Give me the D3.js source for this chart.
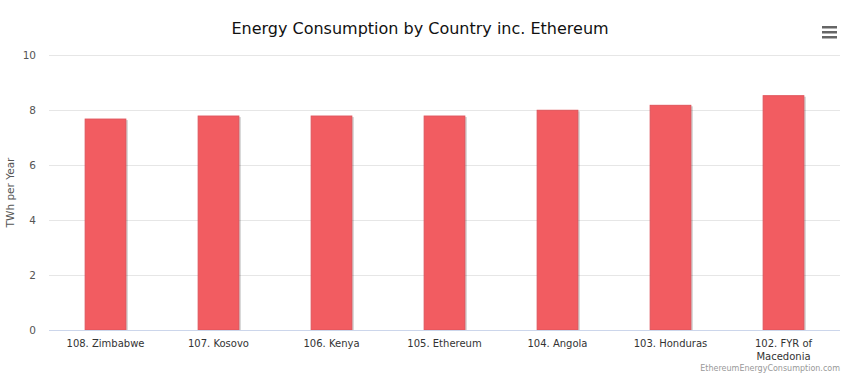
<!DOCTYPE html>
<html>
<head>
<meta charset="utf-8">
<script src="https://cdn.jsdelivr.net/npm/d3@7"></script>
<style>
  body { margin: 0; background: #fff; }
  svg { display: block; font-family: "DejaVu Sans", "Lucida Grande", sans-serif; }
</style>
</head>
<body>
<div class="canvas"></div>
<script>
const categories = [
  "108. Zimbabwe", "107. Kosovo", "106. Kenya", "105. Ethereum",
  "104. Angola", "103. Honduras", "102. FYR of Macedonia"
];
const values = [7.67, 7.78, 7.78, 7.78, 7.99, 8.17, 8.52];
const yTicks = [0, 2, 4, 6, 8, 10];

const width = 848, height = 377;
const margin = { top: 55, right: 8, bottom: 47, left: 49 };
const graphWidth = width - margin.left - margin.right;
const graphHeight = height - margin.top - margin.bottom;

const svg = d3.select(".canvas").append("svg")
  .attr("width", width)
  .attr("height", height);

// title
svg.append("text")
  .attr("x", width / 2 - 4)
  .attr("y", 34)
  .attr("text-anchor", "middle")
  .attr("font-size", 16)
  .attr("fill", "#111")
  .text("Energy Consumption by Country inc. Ethereum");

const graph = svg.append("g")
  .attr("transform", `translate(${margin.left}, ${margin.top})`);

const x = d3.scaleBand().domain(categories).range([0, graphWidth]).paddingInner(0.64).paddingOuter(0.32);
const y = d3.scaleLinear().domain([0, 10]).range([graphHeight, 0]);

// gridlines
graph.append("g").selectAll("line")
  .data(yTicks)
  .join("line")
  .attr("x1", 0).attr("x2", graphWidth)
  .attr("y1", d => y(d) + 0.5).attr("y2", d => y(d) + 0.5)
  .attr("stroke", "#e6e6e6");

// y axis labels
const yAxis = d3.axisLeft(y).tickValues(yTicks).tickSize(0).tickPadding(13);
const yAxisGroup = graph.append("g").call(yAxis);
yAxisGroup.select(".domain").remove();
yAxisGroup.selectAll("text")
  .attr("font-size", 10.5)
  .attr("font-family", "DejaVu Sans, sans-serif")
  .attr("fill", "#555");

// y axis title
svg.append("text")
  .attr("transform", `translate(14, ${margin.top + graphHeight / 2}) rotate(-90)`)
  .attr("text-anchor", "middle")
  .attr("font-size", 10.5)
  .attr("fill", "#555")
  .text("TWh per Year");

// bar shadows
graph.append("g").selectAll("rect")
  .data(values)
  .join("rect")
  .attr("x", (d, i) => x(categories[i]) + 2)
  .attr("y", d => y(d) + 1)
  .attr("width", x.bandwidth())
  .attr("height", d => graphHeight - y(d) - 1)
  .attr("fill", "#000")
  .attr("opacity", 0.18);

// bars
graph.append("g").selectAll("rect")
  .data(values)
  .join("rect")
  .attr("x", (d, i) => x(categories[i]))
  .attr("y", d => y(d))
  .attr("width", x.bandwidth())
  .attr("height", d => graphHeight - y(d))
  .attr("fill", "#f25c61")
  .attr("stroke", "#e0535a")
  .attr("stroke-width", 1);

// x axis
const xAxisGroup = graph.append("g")
  .attr("transform", `translate(0, ${graphHeight})`)
  .call(d3.axisBottom(x).tickSize(0).tickPadding(10));
xAxisGroup.select(".domain").attr("stroke", "#ccd6eb").attr("d", `M0,0.5H${graphWidth}`);
xAxisGroup.selectAll("text")
  .attr("font-size", 10)
  .attr("font-family", "DejaVu Sans, sans-serif")
  .attr("fill", "#333")
  .each(function(d) {
    const t = d3.select(this);
    if (d.length > 14) {
      const parts = ["102. FYR of", "Macedonia"];
      t.text(null);
      parts.forEach((p, i) => {
        t.append("tspan").attr("x", 0).attr("dy", i === 0 ? "0.71em" : "1.3em").text(p);
      });
      t.attr("dy", null);
    }
  });

// menu icon
const menu = svg.append("g").attr("transform", "translate(822, 26)");
[0, 5, 10].forEach(dy => {
  menu.append("rect").attr("x", 0).attr("y", dy).attr("width", 15).attr("height", 2.5).attr("fill", "#666");
});

// credits
svg.append("text")
  .attr("x", 840)
  .attr("y", 371)
  .attr("text-anchor", "end")
  .attr("font-size", 8)
  .attr("fill", "#999")
  .text("EthereumEnergyConsumption.com");
</script>
</body>
</html>
